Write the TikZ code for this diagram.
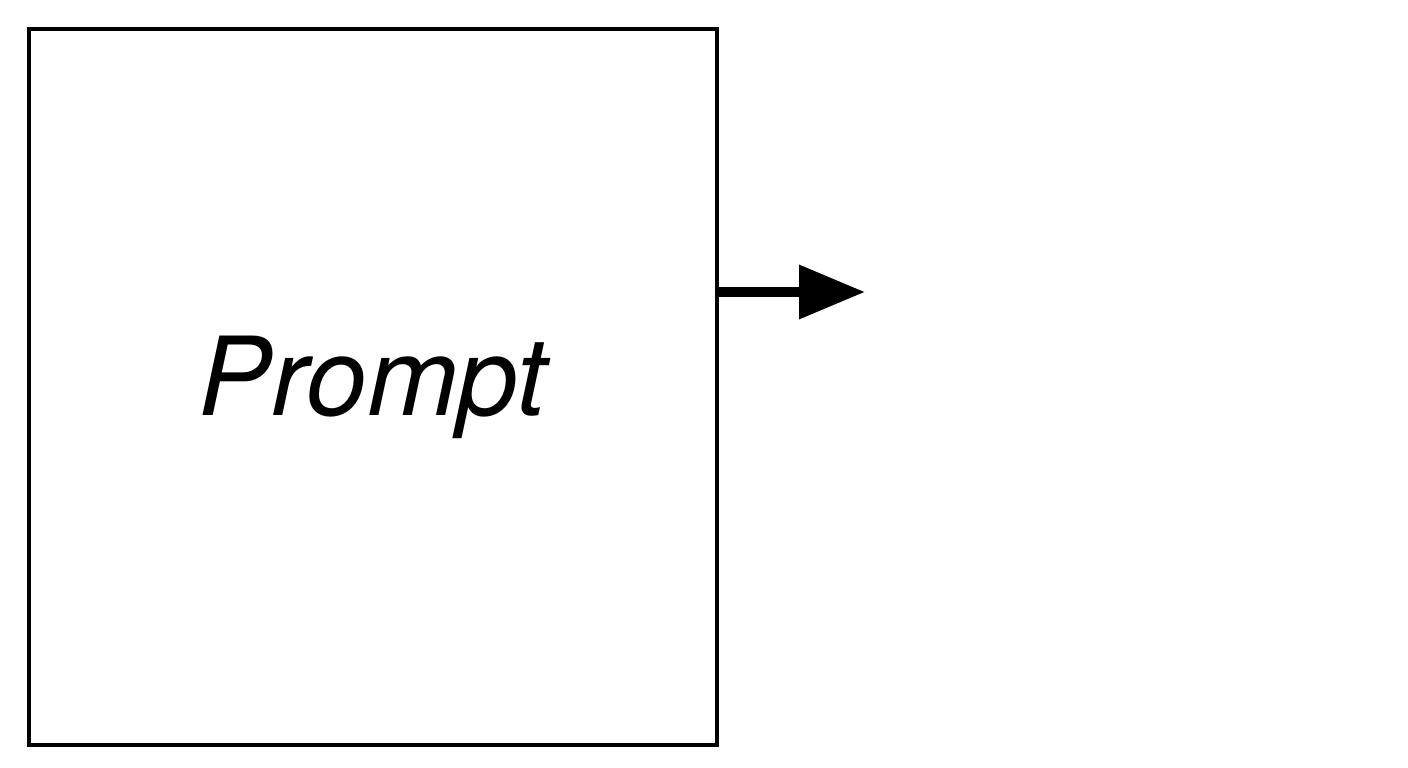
\documentclass[tikz,border=0pt]{standalone}
\usepackage{fontspec}
\setmainfont{TeX Gyre Heros}
\usetikzlibrary{arrows.meta}

\begin{document}
\begin{tikzpicture}[x=1pt, y=-1pt,
    promptbox/.style={draw, line width=3.5pt, outer sep=0pt, inner sep=0pt,
        minimum width=688pt, minimum height=716pt,
        font=\fontsize{109}{115}\selectfont\itshape},
    flow/.style={line width=10pt, -{Triangle[length=66pt, width=52pt]}}]
\useasboundingbox (0, 0) rectangle (1408, 768);

\node[promptbox] (prompt) at (373, 387) {Prompt};
\coordinate (out) at (865, 292);

\draw[flow] (prompt.east |- out) -- (out);
\end{tikzpicture}
\end{document}
